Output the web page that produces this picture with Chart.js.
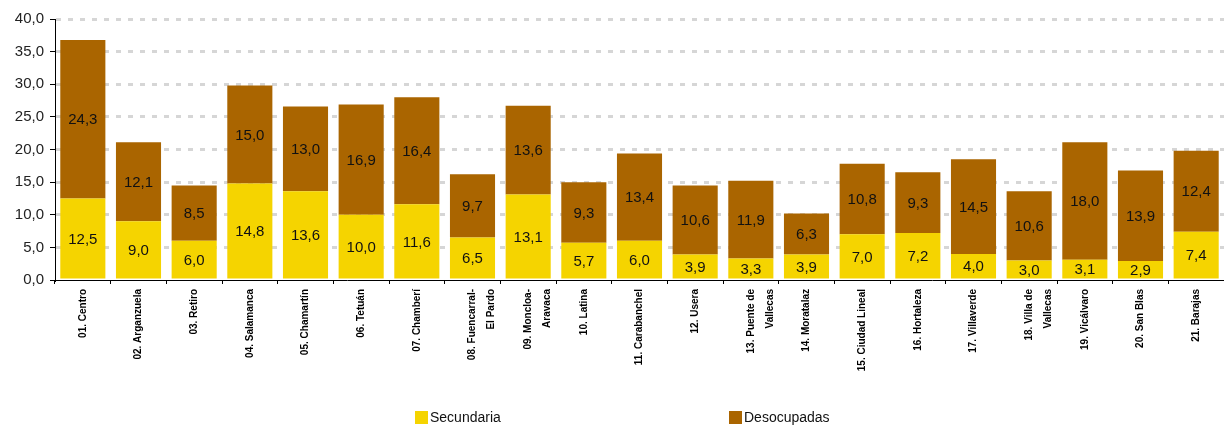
<!DOCTYPE html>
<html>
<head>
<meta charset="utf-8">
<script src="https://cdn.jsdelivr.net/npm/chart.js@4/dist/chart.umd.min.js"></script>
<style>
  html, body { margin: 0; padding: 0; background: #fff; }
  #wrap { position: relative; width: 1224px; height: 426px; }
  .key { position: absolute; top: 409px; font: 14px Arial, "Liberation Sans", sans-serif; color: #111; line-height: 16px; }
  .key i { display: inline-block; width: 13px; height: 13px; vertical-align: -2px; margin-right: 2px; }
</style>
</head>
<body>
<div id="wrap">
  <canvas id="distritos"></canvas>
  <div class="key" style="left:415px"><i style="background:#F5D400"></i>Secundaria</div>
  <div class="key" style="left:729px"><i style="background:#AA6500"></i>Desocupadas</div>
</div>
<script>
const districts = [
    '01. Centro', '02. Arganzuela', '03. Retiro', '04. Salamanca', '05. Chamartín',
    '06. Tetuán', '07. Chamberí', ['08. Fuencarral-', 'El Pardo'], ['09. Moncloa-', 'Aravaca'],
    '10. Latina', '11. Carabanchel', '12. Usera', ['13. Puente de', 'Vallecas'], '14. Moratalaz',
    '15. Ciudad Lineal', '16. Hortaleza', '17. Villaverde', ['18. Villa de', 'Vallecas'],
    '19. Vicálvaro', '20. San Blas', '21. Barajas'
];
const secundaria = [12.5, 9.0, 6.0, 14.8, 13.6, 10.0, 11.6, 6.5, 13.1, 5.7, 6.0, 3.9, 3.3, 3.9, 7.0, 7.2, 4.0, 3.0, 3.1, 2.9, 7.4];
const desocupadas = [24.3, 12.1, 8.5, 15.0, 13.0, 16.9, 16.4, 9.7, 13.6, 9.3, 13.4, 10.6, 11.9, 6.3, 10.8, 9.3, 14.5, 10.6, 18.0, 13.9, 12.4];
const yMax = 40;
const yStep = 5;

const fmt = (v) => v.toFixed(1).replace('.', ',');

// writes each segment's value in the middle of its bar piece
const segmentValues = {
    id: 'segmentValues',
    afterDatasetsDraw(chart) {
        const ctx = chart.ctx;
        ctx.save();
        ctx.font = '15px Arial, "Liberation Sans", sans-serif';
        ctx.fillStyle = '#111';
        ctx.textAlign = 'center';
        ctx.textBaseline = 'middle';
        chart.data.datasets.forEach((ds, di) => {
            chart.getDatasetMeta(di).data.forEach((bar, i) => {
                ctx.fillText(fmt(ds.data[i]), bar.x, (bar.y + bar.base) / 2 + 1);
            });
        });
        ctx.restore();
    }
};

let ctx = document.getElementById('distritos');
new Chart(ctx, {
    type: 'bar',
    data: {
        labels: districts,
        datasets: [
            { label: 'Secundaria', data: secundaria, backgroundColor: '#F5D400' },
            { label: 'Desocupadas', data: desocupadas, backgroundColor: '#AA6500' }
        ]
    },
    options: {
        responsive: true,
        maintainAspectRatio: false,
        animation: false,
        datasets: {
            bar: { categoryPercentage: 1, barPercentage: 0.81 }
        },
        plugins: {
            legend: { display: false },
            tooltip: { enabled: false }
        },
        layout: {
            padding: { top: 19, bottom: 26, left: 0, right: 0 }
        },
        scales: {
            x: {
                stacked: true,
                afterFit: (axis) => { axis.height = 120; },
                border: { color: '#000', width: 1 },
                grid: {
                    drawOnChartArea: false,
                    tickLength: 4,
                    tickColor: '#000',
                    tickWidth: 1
                },
                ticks: {
                    autoSkip: false,
                    minRotation: 90,
                    maxRotation: 90,
                    padding: 5,
                    color: '#000',
                    font: { family: 'Arial, "Liberation Sans", sans-serif', size: 10, weight: 'bold', lineHeight: '19px' }
                }
            },
            y: {
                stacked: true,
                min: 0,
                max: yMax,
                afterFit: (axis) => { axis.width = 55; },
                border: { color: '#000', width: 1, dash: [5, 7] },
                grid: {
                    color: (c) => c.tick && c.tick.value === 0 ? 'rgba(0,0,0,0)' : '#D6D6D6',
                    lineWidth: 3,
                    tickLength: 5,
                    tickColor: '#000',
                    tickWidth: 1,
                    tickBorderDash: []
                },
                ticks: {
                    stepSize: yStep,
                    padding: 6,
                    color: '#222',
                    font: { family: 'Arial, "Liberation Sans", sans-serif', size: 15 },
                    callback: (v) => fmt(v)
                }
            }
        }
    },
    plugins: [segmentValues]
});
</script>
</body>
</html>
